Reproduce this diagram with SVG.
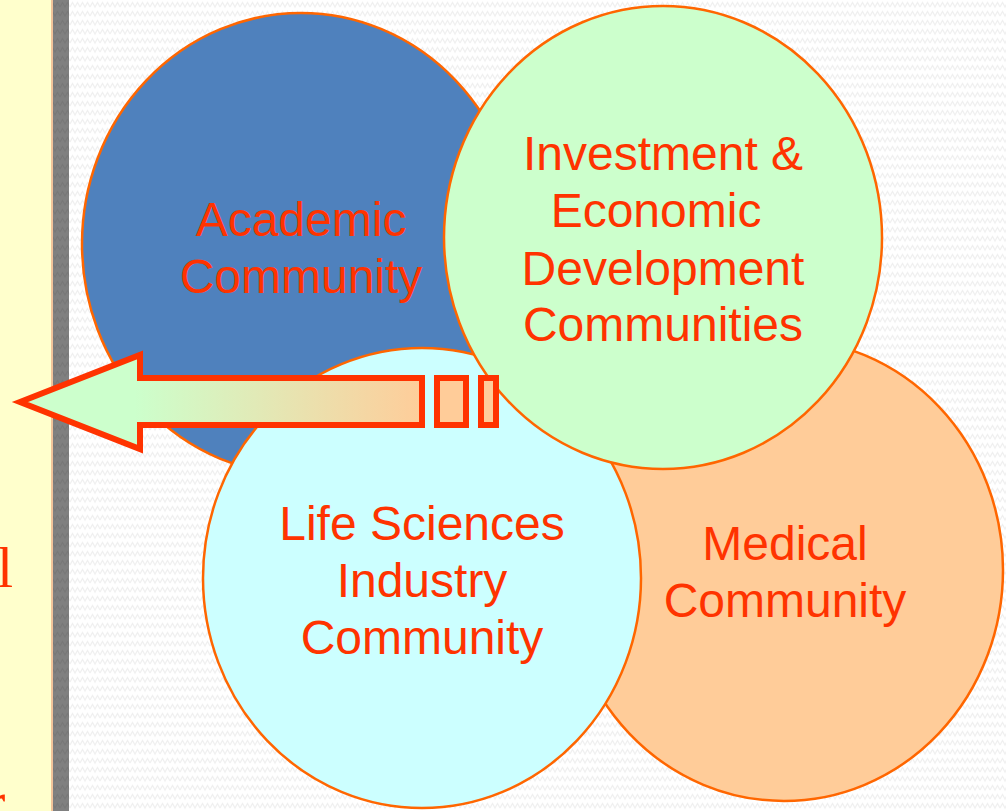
<svg xmlns="http://www.w3.org/2000/svg" width="1006" height="811" viewBox="0 0 1006 811">
  <defs>
    <pattern id="zz" x="0" y="0" width="10" height="9" patternUnits="userSpaceOnUse">
      <rect width="10" height="9" fill="#FFFFFF"/>
      <polyline points="0,7 2.5,2.5 5,7 7.5,2.5 10,7" fill="none" stroke="#F0F0F0" stroke-width="1.2"/>
    </pattern>
    <pattern id="zzg" x="0" y="0" width="10" height="9" patternUnits="userSpaceOnUse">
      <rect width="10" height="9" fill="#808080"/>
      <polyline points="0,7 2.5,2.5 5,7 7.5,2.5 10,7" fill="none" stroke="#787878" stroke-width="1.2"/>
    </pattern>
    <linearGradient id="arrowGrad" gradientUnits="userSpaceOnUse" x1="135" y1="0" x2="425" y2="0">
      <stop offset="0" stop-color="#CCFFCC"/>
      <stop offset="1" stop-color="#FFCC99"/>
    </linearGradient>
    <style>
      .circle { stroke: #FF6600; stroke-width: 2.5; }
      .label { font-family: "Liberation Sans", Arial, sans-serif; font-size: 48px; fill: #FF3300; text-anchor: middle; }
      .side { font-family: "Liberation Serif", "Times New Roman", serif; font-size: 58px; fill: #FF3300; }
      .arrow { stroke: #FF3300; stroke-width: 6; stroke-linejoin: miter; }
    </style>
  </defs>

  <!-- background -->
  <rect x="0" y="0" width="1006" height="811" fill="url(#zz)"/>
  <rect x="0" y="0" width="52" height="811" fill="#FFFFCC"/>
  <rect x="51" y="0" width="2" height="811" fill="#F2C49A"/>
  <rect x="53" y="0" width="16" height="811" fill="url(#zzg)"/>
  <text class="side" x="-3" y="587">l</text>
  <text class="side" x="-14" y="821">r</text>

  <g id="academic">
    <ellipse class="circle" cx="301" cy="244" rx="219" ry="231" fill="#4F81BD"/>
    <text class="label" x="301" y="236">Academic</text>
    <text class="label" x="301" y="293">Community</text>
  </g>

  <g id="medical">
    <ellipse class="circle" cx="784" cy="570" rx="219" ry="231" fill="#FFCC99"/>
    <text class="label" x="785" y="560">Medical</text>
    <text class="label" x="785" y="617">Community</text>
  </g>

  <g id="lifesciences">
    <ellipse class="circle" cx="422" cy="578" rx="219" ry="230" fill="#CCFFFF"/>
    <text class="label" x="422" y="540">Life Sciences</text>
    <text class="label" x="422" y="597">Industry</text>
    <text class="label" x="422" y="654">Community</text>
  </g>

  <g id="investment">
    <ellipse class="circle" cx="663" cy="237.5" rx="219" ry="231.5" fill="#CCFFCC"/>
    <text class="label" x="663" y="170">Investment &amp;</text>
    <text class="label" x="656" y="227">Economic</text>
    <text class="label" x="663" y="285">Development</text>
    <text class="label" x="663" y="341">Communities</text>
  </g>

  <g id="connectors">
    <path class="arrow" d="M20,402 L140,355 L140,378 L422,378 L422,425 L140,425 L140,449 Z" fill="url(#arrowGrad)"/>
    <rect class="arrow" x="437" y="378" width="29" height="47" fill="#FFCC99"/>
    <rect class="arrow" x="481" y="378" width="15" height="47" fill="#FFCC99"/>
  </g>
</svg>
